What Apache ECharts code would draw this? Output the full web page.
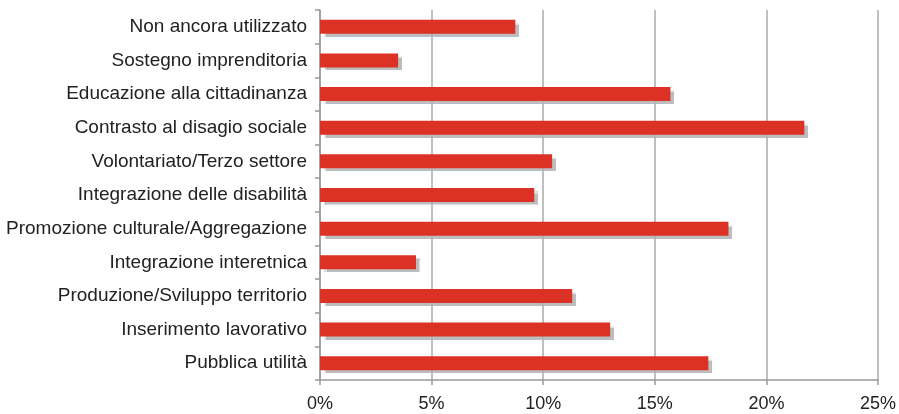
<!DOCTYPE html>
<html><head><meta charset="utf-8">
<script src="https://cdn.jsdelivr.net/npm/echarts@6/dist/echarts.min.js"></script>
<style>html,body{margin:0;padding:0;background:#fff}#c{width:899px;height:414px}</style>
</head><body><div id="c"></div>
<script>
const categories = ["Non ancora utilizzato","Sostegno imprenditoria","Educazione alla cittadinanza","Contrasto al disagio sociale","Volontariato/Terzo settore","Integrazione delle disabilità","Promozione culturale/Aggregazione","Integrazione interetnica","Produzione/Sviluppo territorio","Inserimento lavorativo","Pubblica utilità"];
const values = [8.75, 3.5, 15.7, 21.7, 10.4, 9.6, 18.3, 4.3, 11.3, 13.0, 17.4];
const tickLabels = ["0%","5%","10%","15%","20%","25%"];

const chart = echarts.init(document.getElementById('c'), null, {renderer:'canvas'});
chart.setOption({
  animation:false,
  grid:{left:320,right:20,top:10,bottom:34,containLabel:false},
  xAxis:{type:'value',min:0,max:25,interval:5,
    axisLine:{show:true,lineStyle:{color:'#999',width:1.5}},
    axisTick:{show:true,length:5,lineStyle:{color:'#999',width:1.5}},
    axisLabel:{formatter:(v)=>tickLabels[Math.round(v/5)],color:'#222',fontSize:18,fontFamily:'Liberation Sans, Arial',margin:15},
    splitLine:{show:true,lineStyle:{color:'#aaa',width:1.5}}},
  yAxis:{type:'category',data:categories,inverse:true,
    axisLine:{show:true,lineStyle:{color:'#999',width:1.5}},
    axisTick:{show:true,length:5,lineStyle:{color:'#999',width:1.5}},
    axisLabel:{color:'#222',fontSize:19,fontFamily:'Liberation Sans, Arial',margin:13}},
  series:[{type:'bar',data:values,barWidth:14,
    itemStyle:{color:'#DC3125',shadowColor:'rgba(175,178,180,0.85)',shadowBlur:1,shadowOffsetX:4,shadowOffsetY:3}}]
});
</script></body></html>
